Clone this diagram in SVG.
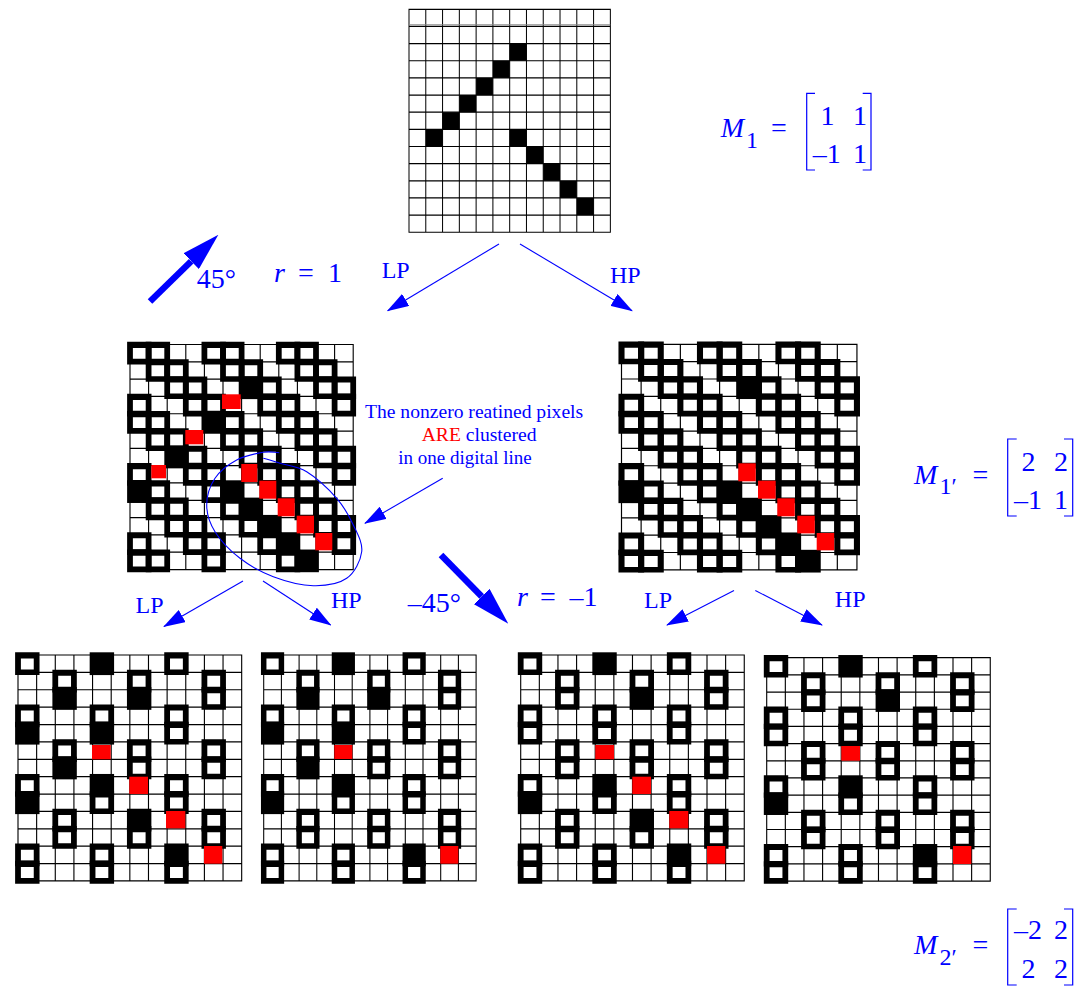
<svg xmlns="http://www.w3.org/2000/svg" width="1076" height="987" viewBox="0 0 1076 987">
<style>
text{font-family:"Liberation Serif","Times New Roman",serif;fill:#0000ff;font-size:28px}
.i{font-style:italic}
.s{font-size:24px}
.l{font-size:24px}
.n{font-size:19.6px}
.red{fill:#ff0000}
.thin{fill:none;stroke:#0000ff;stroke-width:1.1}
.thick{fill:none;stroke:#0000ff;stroke-width:6.5}
.br{fill:none;stroke:#0000ff;stroke-width:1.2}
</style>
<defs>
<path id="g" d="M-.03 0h.06v13h-.06zM.97 0h.06v13h-.06zM1.97 0h.06v13h-.06zM2.97 0h.06v13h-.06zM3.97 0h.06v13h-.06zM4.97 0h.06v13h-.06zM5.97 0h.06v13h-.06zM6.97 0h.06v13h-.06zM7.97 0h.06v13h-.06zM8.97 0h.06v13h-.06zM9.97 0h.06v13h-.06zM10.97 0h.06v13h-.06zM11.97 0h.06v13h-.06zM-.03 -.035h12.06v.07h-12.06zM-.03 .965h12.06v.07h-12.06zM-.03 1.965h12.06v.07h-12.06zM-.03 2.965h12.06v.07h-12.06zM-.03 3.965h12.06v.07h-12.06zM-.03 4.965h12.06v.07h-12.06zM-.03 5.965h12.06v.07h-12.06zM-.03 6.965h12.06v.07h-12.06zM-.03 7.965h12.06v.07h-12.06zM-.03 8.965h12.06v.07h-12.06zM-.03 9.965h12.06v.07h-12.06zM-.03 10.965h12.06v.07h-12.06zM-.03 11.965h12.06v.07h-12.06zM-.03 12.965h12.06v.07h-12.06z"/>
<path id="f" fill-rule="evenodd" d="M-.155 -.155h1.31v1.31h-1.31zM.155 .2h.69v.63h-.69z"/>
<rect id="b" x="-.155" y="-.155" width="1.31" height="1.31"/>
<rect id="c" width="1" height="1"/>
<marker id="ah" markerUnits="userSpaceOnUse" markerWidth="22" markerHeight="14" refX="21" refY="7" orient="auto"><path d="M0 0L22 7L0 14z" fill="#0000ff"/></marker>
<marker id="bh" markerUnits="userSpaceOnUse" markerWidth="38" markerHeight="22" refX="0" refY="11" orient="auto"><path d="M0 0L38 11L0 22z" fill="#0000ff"/></marker>
</defs>
<rect width="1076" height="987" fill="#fff"/>

<g id="grid-top">
<g transform="translate(409 9.3) scale(16.78 17.15)">
<use href="#g"/>
<use href="#c" x="6" y="2"/><use href="#c" x="5" y="3"/><use href="#c" x="4" y="4"/><use href="#c" x="3" y="5"/><use href="#c" x="2" y="6"/><use href="#c" x="1" y="7"/><use href="#c" x="6" y="7"/><use href="#c" x="7" y="8"/><use href="#c" x="8" y="9"/><use href="#c" x="9" y="10"/><use href="#c" x="10" y="11"/>
</g>
<path d="M409 24.8H610.3" stroke="#888" stroke-width="1" fill="none"/>
</g>

<g id="grid-lp1">
<g transform="translate(130 344.5) scale(18.6 17.31)">
<use href="#g"/>
<use href="#f" x="0" y="0"/><use href="#f" x="1" y="0"/><use href="#f" x="4" y="0"/><use href="#f" x="5" y="0"/><use href="#f" x="8" y="0"/><use href="#f" x="9" y="0"/>
<use href="#f" x="1" y="1"/><use href="#f" x="2" y="1"/><use href="#f" x="5" y="1"/><use href="#f" x="6" y="1"/><use href="#f" x="9" y="1"/><use href="#f" x="10" y="1"/>
<use href="#f" x="2" y="2"/><use href="#f" x="3" y="2"/><use href="#f" x="7" y="2"/><use href="#f" x="10" y="2"/><use href="#f" x="11" y="2"/>
<use href="#f" x="0" y="3"/><use href="#f" x="3" y="3"/><use href="#f" x="4" y="3"/><use href="#f" x="7" y="3"/><use href="#f" x="8" y="3"/><use href="#f" x="11" y="3"/>
<use href="#f" x="0" y="4"/><use href="#f" x="1" y="4"/><use href="#f" x="5" y="4"/><use href="#f" x="8" y="4"/><use href="#f" x="9" y="4"/>
<use href="#f" x="1" y="5"/><use href="#f" x="2" y="5"/><use href="#f" x="5" y="5"/><use href="#f" x="6" y="5"/><use href="#f" x="9" y="5"/><use href="#f" x="10" y="5"/>
<use href="#f" x="3" y="6"/><use href="#f" x="6" y="6"/><use href="#f" x="7" y="6"/><use href="#f" x="10" y="6"/><use href="#f" x="11" y="6"/>
<use href="#f" x="0" y="7"/><use href="#f" x="3" y="7"/><use href="#f" x="4" y="7"/><use href="#f" x="7" y="7"/><use href="#f" x="8" y="7"/><use href="#f" x="11" y="7"/>
<use href="#f" x="1" y="8"/><use href="#f" x="4" y="8"/><use href="#f" x="8" y="8"/><use href="#f" x="9" y="8"/>
<use href="#f" x="1" y="9"/><use href="#f" x="2" y="9"/><use href="#f" x="5" y="9"/><use href="#f" x="9" y="9"/><use href="#f" x="10" y="9"/>
<use href="#f" x="2" y="10"/><use href="#f" x="3" y="10"/><use href="#f" x="6" y="10"/><use href="#f" x="10" y="10"/><use href="#f" x="11" y="10"/>
<use href="#f" x="0" y="11"/><use href="#f" x="3" y="11"/><use href="#f" x="4" y="11"/><use href="#f" x="7" y="11"/><use href="#f" x="11" y="11"/>
<use href="#f" x="0" y="12"/><use href="#f" x="1" y="12"/><use href="#f" x="4" y="12"/><use href="#f" x="8" y="12"/>
<use href="#b" x="6" y="2"/><use href="#b" x="4" y="4"/><use href="#b" x="2" y="6"/><use href="#b" x="0" y="8"/><use href="#b" x="5" y="8"/><use href="#b" x="6" y="9"/><use href="#b" x="7" y="10"/><use href="#b" x="8" y="11"/><use href="#b" x="9" y="12"/>
</g>
<rect class="red" x="222" y="394.3" width="18.7" height="14.7"/>
<rect class="red" x="185.3" y="430" width="18" height="14.3"/>
<rect class="red" x="151.3" y="465" width="14.7" height="13.3"/>
<rect class="red" x="241.3" y="464" width="16" height="18"/>
<rect class="red" x="259.3" y="480.7" width="17" height="18"/>
<rect class="red" x="277.7" y="498.3" width="17" height="18"/>
<rect class="red" x="296.7" y="515.7" width="17.3" height="17.7"/>
<rect class="red" x="315.3" y="533" width="17" height="17.3"/>
</g>

<g id="grid-hp1">
<g transform="translate(621.5 344.3) scale(19.62 17.35)">
<use href="#g"/>
<use href="#f" x="0" y="0"/><use href="#f" x="1" y="0"/><use href="#f" x="4" y="0"/><use href="#f" x="5" y="0"/><use href="#f" x="8" y="0"/><use href="#f" x="9" y="0"/>
<use href="#f" x="1" y="1"/><use href="#f" x="2" y="1"/><use href="#f" x="5" y="1"/><use href="#f" x="6" y="1"/><use href="#f" x="9" y="1"/><use href="#f" x="10" y="1"/>
<use href="#f" x="2" y="2"/><use href="#f" x="3" y="2"/><use href="#f" x="7" y="2"/><use href="#f" x="10" y="2"/><use href="#f" x="11" y="2"/>
<use href="#f" x="0" y="3"/><use href="#f" x="3" y="3"/><use href="#f" x="4" y="3"/><use href="#f" x="7" y="3"/><use href="#f" x="8" y="3"/><use href="#f" x="11" y="3"/>
<use href="#f" x="0" y="4"/><use href="#f" x="1" y="4"/><use href="#f" x="4" y="4"/><use href="#f" x="5" y="4"/><use href="#f" x="8" y="4"/><use href="#f" x="9" y="4"/>
<use href="#f" x="1" y="5"/><use href="#f" x="2" y="5"/><use href="#f" x="5" y="5"/><use href="#f" x="6" y="5"/><use href="#f" x="9" y="5"/><use href="#f" x="10" y="5"/>
<use href="#f" x="2" y="6"/><use href="#f" x="3" y="6"/><use href="#f" x="6" y="6"/><use href="#f" x="7" y="6"/><use href="#f" x="10" y="6"/><use href="#f" x="11" y="6"/>
<use href="#f" x="0" y="7"/><use href="#f" x="3" y="7"/><use href="#f" x="4" y="7"/><use href="#f" x="7" y="7"/><use href="#f" x="8" y="7"/><use href="#f" x="11" y="7"/>
<use href="#f" x="1" y="8"/><use href="#f" x="4" y="8"/><use href="#f" x="8" y="8"/><use href="#f" x="9" y="8"/>
<use href="#f" x="1" y="9"/><use href="#f" x="2" y="9"/><use href="#f" x="5" y="9"/><use href="#f" x="9" y="9"/><use href="#f" x="10" y="9"/>
<use href="#f" x="2" y="10"/><use href="#f" x="3" y="10"/><use href="#f" x="6" y="10"/><use href="#f" x="10" y="10"/><use href="#f" x="11" y="10"/>
<use href="#f" x="0" y="11"/><use href="#f" x="3" y="11"/><use href="#f" x="4" y="11"/><use href="#f" x="7" y="11"/><use href="#f" x="11" y="11"/>
<use href="#f" x="0" y="12"/><use href="#f" x="1" y="12"/><use href="#f" x="4" y="12"/><use href="#f" x="5" y="12"/><use href="#f" x="8" y="12"/>
<use href="#b" x="6" y="2"/><use href="#b" x="0" y="8"/><use href="#b" x="5" y="8"/><use href="#b" x="6" y="9"/><use href="#b" x="7" y="10"/><use href="#b" x="8" y="11"/><use href="#b" x="9" y="12"/>
</g>
<rect class="red" x="738.3" y="463.3" width="17.5" height="18"/>
<rect class="red" x="758" y="480.7" width="17.7" height="18"/>
<rect class="red" x="777.3" y="498.3" width="17.5" height="18"/>
<rect class="red" x="797.3" y="515.7" width="17.5" height="17.7"/>
<rect class="red" x="816.7" y="533" width="17.5" height="17.3"/>
</g>

<g id="grid-a">
<g transform="translate(18 655) scale(18.64 17.38)">
<use href="#g"/>
<use href="#f" x="0" y="0"/><use href="#f" x="8" y="0"/>
<use href="#f" x="2" y="1"/><use href="#f" x="6" y="1"/><use href="#f" x="10" y="1"/>
<use href="#f" x="10" y="2"/>
<use href="#f" x="0" y="3"/><use href="#f" x="4" y="3"/><use href="#f" x="8" y="3"/>
<use href="#f" x="8" y="4"/>
<use href="#f" x="2" y="5"/><use href="#f" x="6" y="5"/><use href="#f" x="10" y="5"/>
<use href="#f" x="6" y="6"/><use href="#f" x="10" y="6"/>
<use href="#f" x="0" y="7"/><use href="#f" x="8" y="7"/>
<use href="#f" x="4" y="8"/><use href="#f" x="8" y="8"/>
<use href="#f" x="2" y="9"/><use href="#f" x="10" y="9"/>
<use href="#f" x="2" y="10"/><use href="#f" x="6" y="10"/><use href="#f" x="10" y="10"/>
<use href="#f" x="0" y="11"/><use href="#f" x="4" y="11"/>
<use href="#f" x="0" y="12"/><use href="#f" x="4" y="12"/><use href="#f" x="8" y="12"/>
<use href="#b" x="4" y="0"/><use href="#b" x="2" y="2"/><use href="#b" x="6" y="2"/><use href="#b" x="0" y="4"/><use href="#b" x="4" y="4"/><use href="#b" x="2" y="6"/><use href="#b" x="4" y="7"/><use href="#b" x="0" y="8"/><use href="#b" x="6" y="9"/><use href="#b" x="8" y="11"/>
</g>
<rect class="red" x="92" y="745" width="18.7" height="14.3"/>
<rect class="red" x="129.3" y="776.7" width="18.7" height="17.3"/>
<rect class="red" x="166" y="811" width="19.3" height="17.3"/>
<rect class="red" x="204" y="846" width="18.3" height="17.7"/>
</g>

<g id="grid-b">
<g transform="translate(263.7 655) scale(17.7 17.38)">
<use href="#g"/>
<use href="#f" x="0" y="0"/><use href="#f" x="8" y="0"/>
<use href="#f" x="2" y="1"/><use href="#f" x="6" y="1"/><use href="#f" x="10" y="1"/>
<use href="#f" x="10" y="2"/>
<use href="#f" x="0" y="3"/><use href="#f" x="4" y="3"/><use href="#f" x="8" y="3"/>
<use href="#f" x="8" y="4"/>
<use href="#f" x="2" y="5"/><use href="#f" x="6" y="5"/><use href="#f" x="10" y="5"/>
<use href="#f" x="6" y="6"/><use href="#f" x="10" y="6"/>
<use href="#f" x="0" y="7"/><use href="#f" x="8" y="7"/>
<use href="#f" x="4" y="8"/><use href="#f" x="8" y="8"/>
<use href="#f" x="2" y="9"/><use href="#f" x="6" y="9"/><use href="#f" x="10" y="9"/>
<use href="#f" x="2" y="10"/><use href="#f" x="6" y="10"/><use href="#f" x="10" y="10"/>
<use href="#f" x="0" y="11"/><use href="#f" x="4" y="11"/>
<use href="#f" x="0" y="12"/><use href="#f" x="4" y="12"/><use href="#f" x="8" y="12"/>
<use href="#b" x="4" y="0"/><use href="#b" x="2" y="2"/><use href="#b" x="6" y="2"/><use href="#b" x="0" y="4"/><use href="#b" x="4" y="4"/><use href="#b" x="2" y="6"/><use href="#b" x="4" y="7"/><use href="#b" x="0" y="8"/><use href="#b" x="8" y="11"/>
</g>
<rect class="red" x="334.3" y="745" width="18" height="14"/>
<rect class="red" x="440.3" y="846" width="18" height="17.7"/>
</g>

<g id="grid-c">
<g transform="translate(520.7 655) scale(18.63 17.38)">
<use href="#g"/>
<use href="#f" x="0" y="0"/><use href="#f" x="8" y="0"/>
<use href="#f" x="2" y="1"/><use href="#f" x="6" y="1"/><use href="#f" x="10" y="1"/>
<use href="#f" x="2" y="2"/><use href="#f" x="10" y="2"/>
<use href="#f" x="0" y="3"/><use href="#f" x="4" y="3"/><use href="#f" x="8" y="3"/>
<use href="#f" x="0" y="4"/><use href="#f" x="4" y="4"/><use href="#f" x="8" y="4"/>
<use href="#f" x="2" y="5"/><use href="#f" x="6" y="5"/><use href="#f" x="10" y="5"/>
<use href="#f" x="2" y="6"/><use href="#f" x="6" y="6"/><use href="#f" x="10" y="6"/>
<use href="#f" x="0" y="7"/><use href="#f" x="8" y="7"/>
<use href="#f" x="4" y="8"/><use href="#f" x="8" y="8"/>
<use href="#f" x="2" y="9"/><use href="#f" x="10" y="9"/>
<use href="#f" x="2" y="10"/><use href="#f" x="6" y="10"/><use href="#f" x="10" y="10"/>
<use href="#f" x="0" y="11"/><use href="#f" x="4" y="11"/>
<use href="#f" x="0" y="12"/><use href="#f" x="4" y="12"/><use href="#f" x="8" y="12"/>
<use href="#b" x="4" y="0"/><use href="#b" x="6" y="2"/><use href="#b" x="4" y="7"/><use href="#b" x="0" y="8"/><use href="#b" x="6" y="9"/><use href="#b" x="8" y="11"/>
</g>
<rect class="red" x="595.3" y="745" width="18.7" height="14.3"/>
<rect class="red" x="632.3" y="776.7" width="18.7" height="17.3"/>
<rect class="red" x="669.3" y="811" width="19" height="17.3"/>
<rect class="red" x="707" y="846" width="18.3" height="17.7"/>
</g>

<g id="grid-d">
<g transform="translate(766.7 657.7) scale(18.63 17.18)">
<use href="#g"/>
<use href="#f" x="0" y="0"/><use href="#f" x="8" y="0"/>
<use href="#f" x="2" y="1"/><use href="#f" x="6" y="1"/><use href="#f" x="10" y="1"/>
<use href="#f" x="2" y="2"/><use href="#f" x="10" y="2"/>
<use href="#f" x="0" y="3"/><use href="#f" x="4" y="3"/><use href="#f" x="8" y="3"/>
<use href="#f" x="0" y="4"/><use href="#f" x="4" y="4"/><use href="#f" x="8" y="4"/>
<use href="#f" x="2" y="5"/><use href="#f" x="6" y="5"/><use href="#f" x="10" y="5"/>
<use href="#f" x="2" y="6"/><use href="#f" x="6" y="6"/><use href="#f" x="10" y="6"/>
<use href="#f" x="0" y="7"/><use href="#f" x="8" y="7"/>
<use href="#f" x="4" y="8"/><use href="#f" x="8" y="8"/>
<use href="#f" x="2" y="9"/><use href="#f" x="6" y="9"/><use href="#f" x="10" y="9"/>
<use href="#f" x="2" y="10"/><use href="#f" x="6" y="10"/><use href="#f" x="10" y="10"/>
<use href="#f" x="0" y="11"/><use href="#f" x="4" y="11"/>
<use href="#f" x="0" y="12"/><use href="#f" x="4" y="12"/><use href="#f" x="8" y="12"/>
<use href="#b" x="4" y="0"/><use href="#b" x="6" y="2"/><use href="#b" x="4" y="7"/><use href="#b" x="0" y="8"/><use href="#b" x="8" y="11"/>
</g>
<rect class="red" x="841.3" y="746" width="18.7" height="14.7"/>
<rect class="red" x="953" y="846" width="18.3" height="18"/>
</g>

<g id="connectors">
<line class="thin" x1="499" y1="244" x2="387.7" y2="310.7" marker-end="url(#ah)"/>
<line class="thin" x1="520" y1="244" x2="632" y2="310.7" marker-end="url(#ah)"/>
<line class="thin" x1="243" y1="581" x2="164" y2="626.5" marker-end="url(#ah)"/>
<line class="thin" x1="263" y1="581" x2="330.6" y2="625" marker-end="url(#ah)"/>
<line class="thin" x1="734" y1="590.5" x2="667" y2="625" marker-end="url(#ah)"/>
<line class="thin" x1="755.3" y1="590.5" x2="822" y2="625" marker-end="url(#ah)"/>
<line class="thin" x1="442.7" y1="478.3" x2="365" y2="523.3" marker-end="url(#ah)"/>
<line class="thick" x1="150" y1="301.5" x2="191.2" y2="261.2" marker-end="url(#bh)"/>
<line class="thick" x1="441" y1="555" x2="481.7" y2="596.5" marker-end="url(#bh)"/>
<path class="thin" d="M279.3,452.7C274,452.5 270.4,451.1 263.3,452.3C256.2,453.5 244.75,455.67 236.7,460C228.65,464.33 220,470.8 215,478.3C210,485.8 206.7,496.1 206.7,505C206.7,513.9 209.45,522.82 215,531.7C220.55,540.58 230.28,550.8 240,558.3C249.72,565.8 261.1,572.13 273.3,576.7C285.5,581.27 301.07,585.43 313.3,585.7C325.53,585.97 338.63,583.97 346.7,578.3C354.77,572.63 360.6,560.58 361.7,551.7C362.8,542.82 357.47,533.9 353.3,525C349.13,516.1 344.47,507.18 336.7,498.3C328.93,489.42 316.15,477.53 306.7,471.7C297.25,465.87 287.23,465.53 280,463.3C272.77,461.07 268,459.5 263.3,458.3"/>
</g>

<g id="label-note">
<text class="n" x="365" y="418.3">The nonzero reatined pixels</text>
<text class="n" x="421.7" y="440.7"><tspan style="fill:#ff0000">ARE</tspan> clustered</text>
<text class="n" x="398.3" y="464" style="font-size:19px">in one digital line</text>
</g>

<g id="labels-filter">
<text class="l" x="381.7" y="278.3">LP</text>
<text class="l" x="610" y="283.3">HP</text>
<text class="l" x="135.5" y="613">LP</text>
<text class="l" x="331" y="607.7">HP</text>
<text class="l" x="644" y="608">LP</text>
<text class="l" x="834.8" y="606.7">HP</text>
</g>

<g id="label-45">
<text x="196.7" y="288.3">45°</text>
<text class="i" x="274" y="282.3">r</text>
<text x="298" y="282.3">=</text>
<text x="328" y="282.3">1</text>
</g>

<g id="label-minus45">
<text x="407.8" y="611.7">–45°</text>
<text class="i" x="517" y="606">r</text>
<text x="540" y="606">=</text>
<text x="569.4" y="606">–1</text>
</g>

<g id="matrix-m1">
<text class="i" x="720.7" y="137.3">M</text>
<text class="s" x="746" y="148.3">1</text>
<text x="771" y="137.3">=</text>
<path class="br" d="M815 93.3H806.7V170H815M862.7 93.3H871V170H862.7"/>
<text x="820.5" y="125">1</text>
<text x="853" y="125">1</text>
<text x="812.7" y="163.3">–1</text>
<text x="853" y="163.3">1</text>
</g>

<g id="matrix-m1p">
<text class="i" x="914" y="484">M</text>
<text class="s" x="939.5" y="494">1′</text>
<text x="972.5" y="484">=</text>
<path class="br" d="M1016.7 439H1007.7V516H1016.7M1064 439H1072.7V516H1064"/>
<text x="1021.5" y="470.7">2</text>
<text x="1054" y="470.7">2</text>
<text x="1014" y="509.3">–1</text>
<text x="1054" y="509.3">1</text>
</g>

<g id="matrix-m2p">
<text class="i" x="914" y="954">M</text>
<text class="s" x="939.5" y="965">2′</text>
<text x="972.5" y="954">=</text>
<path class="br" d="M1016.7 909H1007.7V985H1016.7M1064 909H1072.7V985H1064"/>
<text x="1014" y="939">–2</text>
<text x="1054" y="939">2</text>
<text x="1021.5" y="978">2</text>
<text x="1054" y="978">2</text>
</g>
</svg>
